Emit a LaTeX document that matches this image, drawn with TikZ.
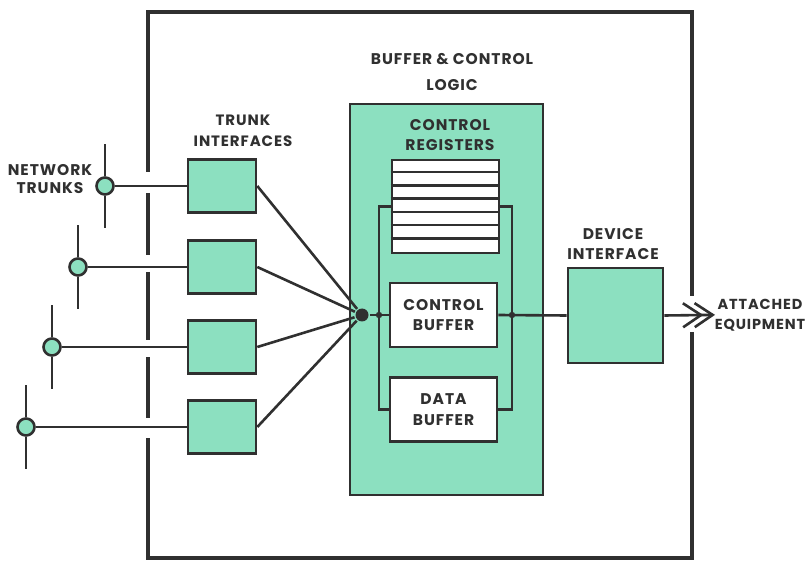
\documentclass[tikz,border=0pt]{standalone}
\usepackage{fontspec}
\setmainfont{Poppins}[LetterSpace=6]
\usetikzlibrary{arrows.meta}
\definecolor{panel}{RGB}{140,224,192}
\definecolor{ink}{RGB}{48,48,48}
\begin{document}
\begin{tikzpicture}[x=1pt,y=-1pt,color=ink,line width=2.6pt,
  every node/.style={font=\bfseries\fontsize{15.5}{20.5}\selectfont,text=ink,align=center,inner sep=0pt},
  unit/.style={draw,fill=panel,minimum width=68pt,minimum height=53pt},
  bufbox/.style={draw,fill=white,minimum width=107pt,minimum height=64pt},
  tap/.style={draw,circle,fill=panel,minimum size=17pt},
  junction/.style={circle,fill=ink,minimum size=#1},
  >={Straight Barb[length=18pt,width=24pt,sep=-10pt]}]
\useasboundingbox (0,0) rectangle (806,561);
% outer frame, open at the trunks and the output
\draw[line width=3.2pt] (148,172) -- (148,12) -- (692,12) -- (692,296);
\draw[line width=3.2pt] (692,332) -- (692,558) -- (148,558) -- (148,438);
\foreach \a/\b in {193/255,272/340,357/418}
  \draw[line width=3.2pt] (148,\a) -- (148,\b);
% labels
\node[font=\bfseries\fontsize{15.5}{18}\selectfont] (nt) at (50,179) {NETWORK\\TRUNKS};
\node[font=\bfseries\fontsize{15}{20.5}\selectfont] (ti) at (243,131) {TRUNK\\INTERFACES};
\node (bcl) at (452,72) {BUFFER \& CONTROL\\[6pt]LOGIC};
\node (di) at (613,244) {DEVICE\\INTERFACE};
\node[font=\bfseries\fontsize{14.5}{20.5}\selectfont] (ae) at (760,315) {ATTACHED\\EQUIPMENT};
% buffer & control logic
\node[draw,fill=panel,minimum width=193pt,minimum height=391pt] (bcu) at (446.5,299.5) {};
\node (cr) at (450,135) {CONTROL\\REGISTERS};
\node[draw,fill=white,minimum width=107pt,minimum height=93pt] (reg) at (445.5,206.5) {};
\foreach \k in {1,...,6}
  \draw (reg.north west) ++(0,\k*13.3) -- ++(107,0);
\node[bufbox] (cb) at (443.5,315) {CONTROL\\BUFFER};
\node[bufbox] (db) at (443.5,409.5) {DATA\\BUFFER};
\coordinate (busl) at (379,315);
\coordinate (busr) at (512,315);
\draw (reg.west) -| (busl) |- (db.west);
\draw (reg.east) -| (busr) |- (db.east);
\node[junction=13pt] (hub) at (362,315) {};
\fill (busl) circle (3.2pt);
\fill (busr) circle (3.2pt);
\draw (hub) -- (cb.west);
% device interface
\node[unit,minimum width=95pt,minimum height=95pt] (dev) at (615.5,315.5) {};
\coordinate (out) at (705,315);
\draw (cb.east) -- (dev.west);
\draw[-{>>}] (dev.east) -- (out);
% trunks
\foreach \i/\tx/\ty in {1/105/186,2/78/267,3/52/347,4/26/427}{
  \node[tap] (t\i) at (\tx,\ty) {};
  \node[unit] (u\i) at (222,\ty) {};
  \draw (t\i) -- (u\i);
  \draw (t\i.north) -- ++(0,-32);
  \draw (t\i.south) -- ++(0,32);
  \draw (u\i.east) -- (hub);
}
\end{tikzpicture}
\end{document}
